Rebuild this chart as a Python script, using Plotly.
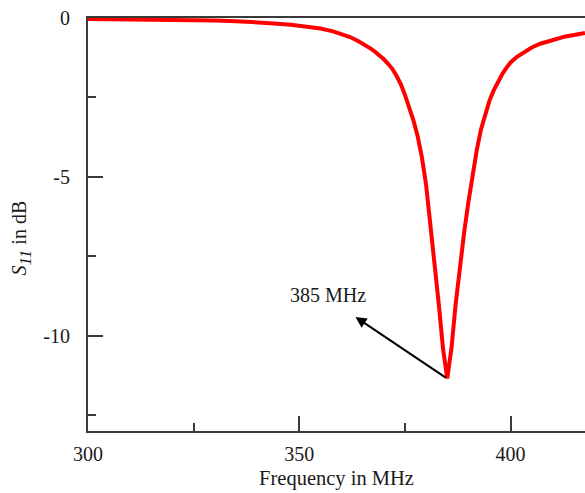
import plotly.graph_objects as go

# Measured return loss of the resonator
freq_mhz = [300, 305, 310, 315, 320, 325, 330, 335, 340, 344, 348, 352, 355, 358,
            360, 362, 364, 366, 367, 368, 369, 370, 371, 372, 373, 374, 375, 376,
            377, 378, 379, 380, 381, 382, 383, 384, 385, 386, 387, 388, 389, 390,
            391, 392, 393, 394, 395, 396, 397, 398, 399, 400, 401.5, 403, 405,
            407, 410, 413, 416, 417.6]
s11_db = [-0.03, -0.035, -0.04, -0.05, -0.06, -0.07, -0.08, -0.10, -0.13, -0.17,
          -0.21, -0.27, -0.33, -0.42, -0.50, -0.60, -0.73, -0.88, -0.97, -1.07,
          -1.17, -1.30, -1.44, -1.60, -1.82, -2.08, -2.42, -2.80, -3.22, -3.72,
          -4.38, -5.25, -6.40, -7.75, -9.00, -10.40, -11.35, -10.40, -9.00, -7.75,
          -6.75, -5.80, -4.95, -4.15, -3.50, -3.00, -2.60, -2.28, -2.00, -1.77,
          -1.57, -1.40, -1.22, -1.08, -0.93, -0.81, -0.68, -0.58, -0.51, -0.47]

resonance_mhz = 385
resonance_db = -11.35
label_text = "385 MHz"

x_ticks = [300, 350, 400]
y_ticks = [0, -5, -10]

font_family = "Liberation Serif, Times New Roman, serif"
axis_color = "#3a3a3a"
text_color = "#1a1a1a"

fig = go.Figure()
fig.add_trace(go.Scatter(
    x=freq_mhz, y=s11_db, mode="lines",
    line=dict(color="#ff0000", width=4),
    showlegend=False, hoverinfo="skip",
))

# arrow from the dip towards the label
fig.add_annotation(
    x=363.3, y=-9.41, ax=resonance_mhz, ay=resonance_db,
    xref="x", yref="y", axref="x", ayref="y",
    text="", showarrow=True, arrowhead=2, arrowsize=1.1, arrowwidth=2,
    arrowcolor="black", standoff=0, startstandoff=0,
)
fig.add_annotation(
    x=356.7, y=-8.72, xref="x", yref="y", text=label_text, showarrow=False,
    font=dict(family=font_family, size=20, color=text_color),
    xanchor="center", yanchor="middle",
)

# vertical axis title
fig.add_annotation(
    x=-0.135, y=0.4685, xref="paper", yref="paper", textangle=-90,
    text="<i>S</i><sub><span style='font-style:italic;font-size:17px'>11</span></sub> in dB",
    showarrow=False, xanchor="center", yanchor="middle",
    font=dict(family=font_family, size=20, color=text_color),
)

fig.update_xaxes(
    range=[300, 417.6], tickmode="array", tickvals=x_ticks,
    ticktext=[str(v) for v in x_ticks],
    ticks="inside", ticklen=15, tickwidth=2, tickcolor=axis_color,
    minor=dict(tickmode="array", tickvals=[325, 375], ticks="inside",
               ticklen=8, tickwidth=2, tickcolor=axis_color),
    showline=True, linewidth=2, linecolor=axis_color, mirror=True,
    showgrid=False, zeroline=False,
    tickfont=dict(family=font_family, size=20, color=text_color),
    title=dict(text="Frequency in MHz",
               font=dict(family=font_family, size=20.5, color=text_color),
               standoff=7),
    ticklabelstandoff=4,
)
fig.update_yaxes(
    range=[-13, 0], tickmode="array", tickvals=y_ticks,
    ticktext=[str(v) for v in y_ticks],
    ticks="inside", ticklen=15, tickwidth=2, tickcolor=axis_color,
    minor=dict(tickmode="array", tickvals=[-2.5, -7.5, -12.5], ticks="inside",
               ticklen=8, tickwidth=2, tickcolor=axis_color),
    showline=True, linewidth=2, linecolor=axis_color, mirror=False,
    showgrid=False, zeroline=False,
    tickfont=dict(family=font_family, size=20, color=text_color),
    ticklabelstandoff=12,
)

fig.update_layout(
    width=585, height=493,
    margin=dict(l=88, r=0, t=18, b=62),
    paper_bgcolor="white", plot_bgcolor="white",
)

fig.write_html("out.html")
